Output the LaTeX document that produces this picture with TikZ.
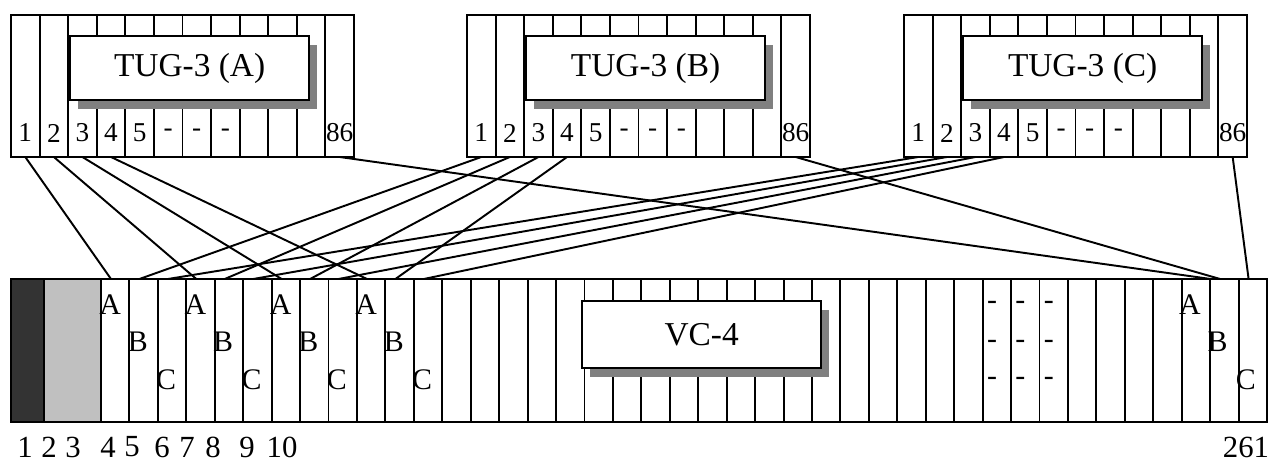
\documentclass[tikz,border=0pt]{standalone}
\usepackage{fontspec}
\setmainfont{Liberation Serif}
\usepackage{xcolor}
\usetikzlibrary{shadows, calc}
\definecolor{darkgrey}{RGB}{51,51,51}
\definecolor{lightgrey}{RGB}{192,192,192}
\definecolor{shadegrey}{RGB}{128,128,128}

\begin{document}
\begin{tikzpicture}[
        x=0.02cm, y=-0.02cm,
        frame/.style={draw=black, line width=1.3pt},
        colline/.style={draw=black, line width=1.1pt},
        labelbox/.style={rectangle, draw=black, fill=white, line width=1.3pt, minimum width=4.78cm, minimum height=1.28cm, inner sep=0pt, anchor=north west, font=\fontsize{19}{22}\selectfont, drop shadow={shadow xshift=0.15cm, shadow yshift=-0.17cm, fill=shadegrey, opacity=1}},
        colnum/.style={inner sep=0pt, font=\fontsize{15.5}{18}\selectfont},
        slot/.style={inner sep=0pt, anchor=west, font=\fontsize{17}{20}\selectfont},
        posnum/.style={inner sep=0pt, font=\fontsize{17.5}{20}\selectfont},
        link/.style={line width=1.1pt, black}
    ]
    \useasboundingbox (0,0) rectangle (1271,463);

    % Row 1: the three TUG-3 frames (12 columns each)
    \foreach \t/\lx in {A/11, B/467, C/904} {
        \draw[frame] (\lx,15) rectangle ++(343,142);
        \foreach \k in {1,...,11}
            \draw[colline] ({\lx+\k*28.58},15) -- ++(0,142);
        \foreach \k in {1,...,12}
            \coordinate (\t-\k) at ({\lx+\k*28.58-14.29},157);
        \node[labelbox] (tug\t) at (\lx+58,35) {TUG-3 (\t)};
        \foreach \k/\s in {1/1, 2/2, 3/3, 4/4, 5/5, 6/-, 7/-, 8/-, 12/86}
            \node[colnum] (num\t\k) at ({\lx+\k*28.58-14.29},133) {\s};
    }

    % Row 2: VC-4 frame (261 columns, drawn as 44)
    \fill[darkgrey] (11,279) rectangle (44,422);
    \fill[lightgrey] (44,279) rectangle (101,422);
    \draw[frame] (11,279) rectangle (1267,422);
    \draw[colline] (44,279) -- (44,422);
    \draw[colline] (101,279) -- (101,422);
    \foreach \k in {5,...,44}
        \draw[colline] ({101+(\k-4)*28.44},279) -- ++(0,143);
    \foreach \k in {4,...,44}
        \coordinate (v-\k) at ({101+(\k-4)*28.44+10},279);
    \node[labelbox, minimum height=1.34cm] (vc4) at (581,300) {VC-4};

    % A/B/C slots in the VC-4
    \foreach \s/\yy [count=\i from 0] in {A/305, B/342, C/380} {
        \foreach \g in {0,...,3}
            \node[slot] (slot\s\g) at ({101+(3*\g+\i)*28.44-2},\yy) {\s};
        \node[slot] (slot\s end) at ({101+(38+\i)*28.44-3},\yy) {\s};
    }
    \foreach \r/\yy in {1/305, 2/344, 3/381}
        \foreach \c in {35,36,37}
            \node[slot] (dash\r\c) at ({101+(\c-4)*28.44+4},\yy) {-};

    % Column numbers under the VC-4
    \foreach \n/\x in {1/25, 2/49, 3/73, 4/108, 5/132, 6/162, 7/187, 8/213, 9/247, 10/282, 261/1246}
        \node[posnum] (pos\n) at (\x,447) {\n};

    % Byte interleaving
    \foreach \k [evaluate=\k as \a using int(3*\k+1),
                 evaluate=\k as \b using int(3*\k+2),
                 evaluate=\k as \c using int(3*\k+3)] in {1,...,4} {
        \draw[link] (A-\k) -- (v-\a);
        \draw[link] (B-\k) -- (v-\b);
        \draw[link] (C-\k) -- (v-\c);
    }
    \draw[link] (A-12) -- ([xshift=0.38cm]v-42);
    \draw[link] (B-12) -- (v-43);
    \draw[link] (C-12) -- (v-44);

\end{tikzpicture}
\end{document}
